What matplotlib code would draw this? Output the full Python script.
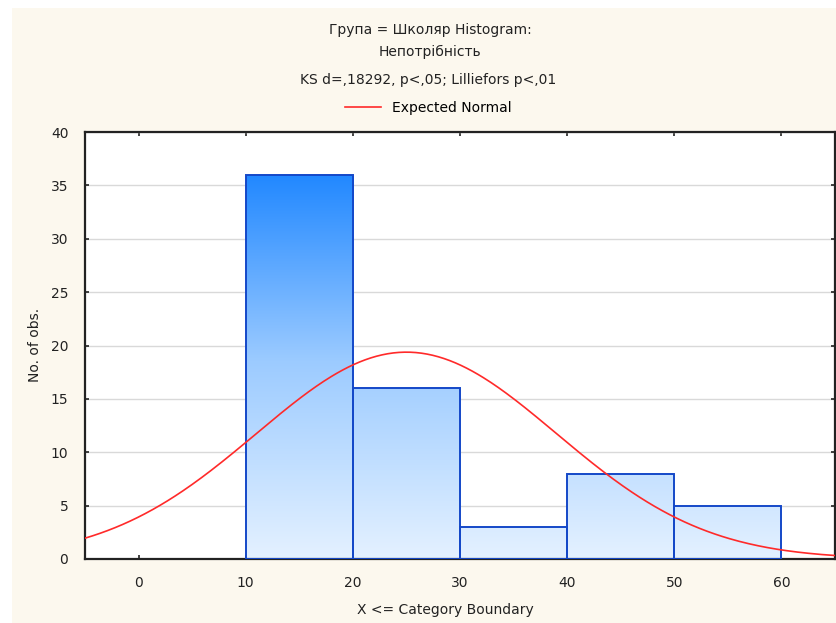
import numpy as np
import matplotlib.pyplot as plt
from matplotlib.colors import LinearSegmentedColormap

plt.rcParams['font.family'] = ['DejaVu Sans']

# data
bin_edges = [10, 20, 30, 40, 50, 60]
counts = [36, 16, 3, 8, 5]
norm_mean = 25.0
norm_sd = 14.0
n_obs = sum(counts)
bin_width = 10

fig = plt.figure(figsize=(8.36, 6.23), dpi=100, facecolor='white')
bg = fig.add_axes([12/836, 0, 1 - 12/836, 1 - 8/623])
bg.set_facecolor('#fcf8ee')
bg.set_xticks([]); bg.set_yticks([])
for s in bg.spines.values():
    s.set_visible(False)

ax = fig.add_axes([85/836, 1 - 559/623, 750/836, 427/623])
ax.set_xlim(-5, 65)
ax.set_ylim(0, 40)

cmap = LinearSegmentedColormap.from_list('blu', ['#e4f1ff', '#9ccbff', '#1a84ff'])
grad = np.linspace(0, 1, 256).reshape(-1, 1)
for left, right, h in zip(bin_edges[:-1], bin_edges[1:], counts):
    bar = ax.bar(left, h, width=right - left, align='edge', facecolor='none',
                 edgecolor='#1448c8', linewidth=1.4, zorder=3)[0]
    im = ax.imshow(grad, cmap=cmap, aspect='auto', origin='lower',
                   extent=(-5, 65, 0, 37), zorder=2, vmin=0, vmax=1)
    im.set_clip_path(bar)

x = np.linspace(-5, 65, 400)
y = n_obs * bin_width / (norm_sd * np.sqrt(2 * np.pi)) * np.exp(-(x - norm_mean)**2 / (2 * norm_sd**2))
line, = ax.plot(x, y, color='#ff2a2a', lw=1.2, zorder=4, label='Expected Normal')

ax.set_xticks([0, 10, 20, 30, 40, 50, 60])
ax.set_yticks(range(0, 41, 5))
ax.yaxis.grid(True, color='#d9d9d9', lw=1)
ax.set_axisbelow(True)
ax.tick_params(direction='in', length=3, width=1.2, top=True, right=True,
               labelsize=10, colors='#222222', pad=12)
ax.tick_params(axis='y', pad=12)
for s in ax.spines.values():
    s.set_linewidth(1.6)
    s.set_color('#222222')

fig.text(445/836, 1 - 610/623, 'X <= Category Boundary', ha='center', va='center', fontsize=10, color='#222222')
fig.text(35/836, 1 - 345/623, 'No. of obs.', ha='center', va='center', rotation=90, fontsize=10, color='#222222')

fig.text(430/836, 1 - 30/623, 'Група = Школяр Histogram:', ha='center', va='center', fontsize=10, color='#222222')
fig.text(430/836, 1 - 52/623, 'Непотрібність', ha='center', va='center', fontsize=10, color='#222222')
fig.text(428/836, 1 - 80/623, 'KS d=,18292, p<,05; Lilliefors p<,01', ha='center', va='center', fontsize=10, color='#222222')
fig.legend(handles=[line], loc='center', bbox_to_anchor=(428/836, 1 - 108/623),
           frameon=False, fontsize=10, handlelength=2.6)

fig.savefig('out.png', dpi=100)
